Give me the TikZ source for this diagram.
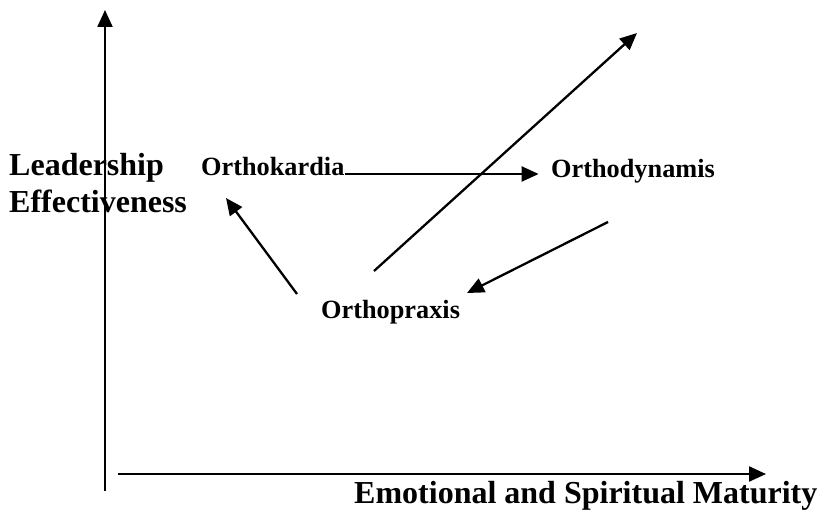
\documentclass[tikz,border=0pt]{standalone}
\usepackage{fontspec}
\setmainfont{Liberation Serif}
\usetikzlibrary{arrows.meta}

\begin{document}
\begin{tikzpicture}[x=1pt,y=-1pt,
    axislabel/.style ={anchor=base west, inner sep=0pt, font=\bfseries\fontsize{32}{37}\selectfont},
    stage/.style ={anchor=base west, inner sep=0pt, font=\bfseries\fontsize{26.3}{31}\selectfont},
    link/.style ={line width=2.3pt, -{Triangle[length=17pt,width=15pt]}}]
   \useasboundingbox (0,0) rectangle (817,511);

   % axes
   \coordinate (O1) at (105,491);
   \coordinate (Ytip) at (105,10);
   \coordinate (O2) at (118,474);
   \coordinate (Xtip) at (766,474);
   \draw[link] (O1) to (Ytip);
   \draw[link] (O2) to (Xtip);

   \node[axislabel] (lead) at (9,175)  {Leadership};
   \node[axislabel] (effect) at (9,212)  {Effectiveness};
   \node[axislabel] (maturity) at (354,503)  {Emotional and Spiritual Maturity};

   % stages
   \node[stage] (kardia) at (201,175)  {Orthokardia};
   \node[stage] (dynamis) at (551,177)  {Orthodynamis};
   \node[stage] (praxis) at (321,318)  {Orthopraxis};

   \coordinate (K1) at (226,198);
   \coordinate (P1) at (297,294);
   \coordinate (P2) at (467,293);
   \coordinate (D1) at (608,222);
   \coordinate (G1) at (374,271);
   \coordinate (G2) at (637,33);

   \draw[link] (kardia.base east) ++(0,-1) to ++(194,0);
   \draw[link] (P1) to (K1);
   \draw[link] (D1) to (P2);
   \draw[link] (G1) to (G2);
 \end{tikzpicture}
\end{document}
